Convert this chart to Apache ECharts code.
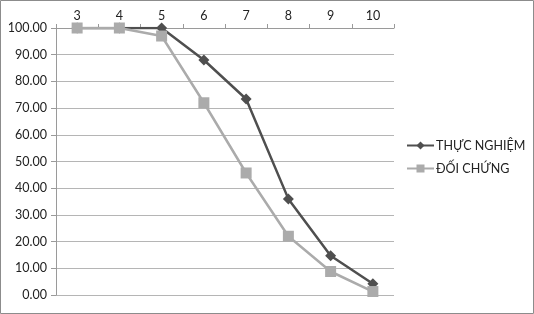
<!DOCTYPE html>
<html><head><meta charset="utf-8">
<script src="https://cdn.jsdelivr.net/npm/echarts@6/dist/echarts.min.js"></script>
<style>html,body{margin:0;padding:0;background:#fff}#c{width:534px;height:314px}</style>
</head><body><div id="c"></div>
<script>
const categories = ['3','4','5','6','7','8','9','10'];
const seriesNames = ['THỰC NGHIỆM','ĐỐI CHỨNG'];
const thucNghiem = [100, 100, 100, 88.0, 73.4, 36.0, 14.7, 4.2];
const doiChung = [100, 100, 97.0, 72.0, 45.7, 22.0, 8.8, 1.3];
const yTicks = {min: 0, max: 100, interval: 10};

const font = 'Lato, "Noto Sans", sans-serif';
const chart = echarts.init(document.getElementById('c'), null, {renderer: 'canvas'});
chart.setOption({
  animation: false,
  backgroundColor: '#fff',
  graphic: [{type: 'rect', shape: {x: 0.5, y: 0.5, width: 533, height: 313}, style: {fill: 'none', stroke: '#8c8c8c', lineWidth: 1}, silent: true}],
  grid: {left: 56, right: 140, top: 28, bottom: 19},
  legend: {
    orient: 'vertical', left: 401, top: 134, itemGap: 10, itemWidth: 27, itemHeight: 10,
    textStyle: {fontFamily: font, fontSize: 12.5, color: '#222', padding: [0, 0, 0, -3]},
    data: seriesNames
  },
  xAxis: {
    type: 'category', position: 'top', data: categories, boundaryGap: true,
    axisLine: {onZero: false, lineStyle: {color: '#9a9a9a'}},
    axisTick: {show: true, length: 4, lineStyle: {color: '#9a9a9a'}},
    axisLabel: {fontFamily: font, fontSize: 12.5, color: '#222', margin: 6}
  },
  yAxis: {
    type: 'value', min: yTicks.min, max: yTicks.max, interval: yTicks.interval,
    axisLine: {show: true, lineStyle: {color: '#9a9a9a'}},
    axisTick: {show: true, length: 5, lineStyle: {color: '#9a9a9a'}},
    splitLine: {lineStyle: {color: '#b5b5b5'}},
    axisLabel: {fontFamily: font, fontSize: 12.5, color: '#222', margin: 9, formatter: v => v.toFixed(2)}
  },
  series: [
    {name: seriesNames[0], type: 'line', data: thucNghiem, symbol: 'diamond', symbolSize: 11,
     lineStyle: {color: '#4f4f4f', width: 2.5}, itemStyle: {color: '#4f4f4f'}, z: 2},
    {name: seriesNames[1], type: 'line', data: doiChung, symbol: 'rect', symbolSize: 11,
     lineStyle: {color: '#ababab', width: 2.5}, itemStyle: {color: '#ababab'}, z: 3}
  ]
});
</script></body></html>
